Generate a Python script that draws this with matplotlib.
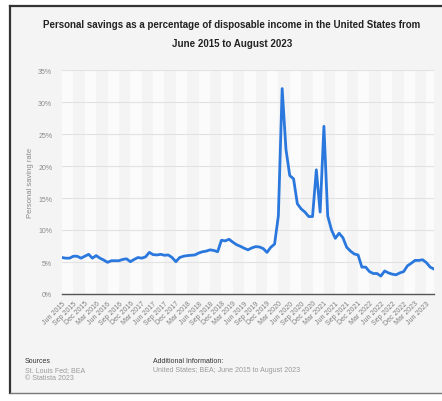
import matplotlib
matplotlib.use("Agg")
import matplotlib.pyplot as plt
import numpy as np
import pandas as pd
from matplotlib.patches import Rectangle

plt.rcParams['font.family'] = ['Liberation Sans', 'DejaVu Sans']

# monthly personal saving rate, Jun 2015 .. Aug 2023 (%)
months = pd.date_range('2015-06-01', '2023-08-01', freq='MS')
saving_rate = [
    5.7, 5.6, 5.6, 5.9, 5.9, 5.6, 5.9, 6.2, 5.6, 6.0, 5.6, 5.3,
    4.95, 5.2, 5.2, 5.2, 5.4, 5.5, 5.05, 5.4, 5.7, 5.6, 5.8, 6.5,
    6.15, 6.1, 6.2, 6.05, 6.1, 5.7, 5.05, 5.7, 5.9, 6.0, 6.05, 6.1,
    6.4, 6.6, 6.7, 6.9, 6.8, 6.6, 8.4, 8.3, 8.55, 8.1, 7.7, 7.45,
    7.15, 6.9, 7.2, 7.4, 7.35, 7.1, 6.5, 7.3, 7.8, 12.2, 32.1, 22.6,
    18.5, 18.0, 14.1, 13.3, 12.8, 12.1, 12.1, 19.4, 12.8, 26.2, 12.2, 10.0,
    8.7, 9.5, 8.8, 7.3, 6.7, 6.25, 6.1, 4.2, 4.2, 3.5, 3.2, 3.2,
    2.8, 3.6, 3.3, 3.1, 3.0, 3.3, 3.5, 4.4, 4.8, 5.25, 5.25, 5.35,
    4.9, 4.2, 3.9,
]
y_ticks = [0, 5, 10, 15, 20, 25, 30, 35]
tick_idx = list(range(0, len(months), 3))
tick_labels = [months[i].strftime('%b %Y') for i in tick_idx]

W, H = 442, 402
fig = plt.figure(figsize=(W / 100, H / 100), dpi=100, facecolor='white')

# card background with dark frame on top/left
fig.patches.append(Rectangle((10 / W, 8 / H), (W - 10) / W, (H - 7 - 8) / H,
                             transform=fig.transFigure, facecolor='#f4f4f4',
                             edgecolor='none', zorder=-5))
fig.add_artist(plt.Line2D([10 / W, 1], [1 - 7 / H, 1 - 7 / H], color='#333333', lw=1.6))
fig.add_artist(plt.Line2D([10 / W, 10 / W], [8 / H, 1 - 7 / H], color='#333333', lw=1.6))
fig.add_artist(plt.Line2D([10 / W, 1], [8 / H, 8 / H], color='#777777', lw=1.0))

ax = fig.add_axes([62 / W, 107 / H, 372 / W, 224 / H])
ax.set_zorder(2)
ax.set_facecolor('#fbfbfb')
x = np.arange(len(months))

# alternating vertical bands per tick interval
for k, i in enumerate(tick_idx):
    if k % 2 == 1:
        ax.axvspan(i, i + 3, color='#f4f4f4', lw=0, zorder=0)

for v in y_ticks[1:]:
    ax.axhline(v, color='#e2e2e2', lw=0.8, zorder=1)

ax.plot(x, saving_rate, color='#2a78de', lw=2.0, solid_joinstyle='round', zorder=3)

ax.set_xlim(0, len(months) - 1)
ax.set_ylim(0, 35)
ax.set_yticks(y_ticks)
ax.set_yticklabels([f'{v}%' for v in y_ticks], fontsize=5, color='#8a8a8a')
ax.set_xticks(tick_idx)
ax.set_xticklabels(tick_labels, rotation=45, ha='right', va='top',
                   rotation_mode='anchor', fontsize=5, color='#808080')
ax.tick_params(axis='x', length=0, pad=4)
ax.tick_params(axis='y', length=0, pad=7)
for s in ['top', 'right', 'left']:
    ax.spines[s].set_visible(False)
ax.spines['bottom'].set_color('#555555')
ax.spines['bottom'].set_linewidth(1.0)
ax.spines['bottom'].set_zorder(4)
ax.set_ylabel('Personal saving rate', fontsize=5.5, color='#8a8a8a', labelpad=3)

fig.text(232 / W, 1 - 25 / H,
         'Personal savings as a percentage of disposable income in the United States from',
         ha='center', va='center', fontsize=7.0, fontweight='bold', color='#222222')
fig.text(232 / W, 1 - 44 / H, 'June 2015 to August 2023',
         ha='center', va='center', fontsize=7.0, fontweight='bold', color='#222222')

fig.text(25 / W, 1 - 362 / H, 'Sources', fontsize=5, color='#333333', va='center')
fig.text(25 / W, 1 - 370.5 / H, 'St. Louis Fed; BEA', fontsize=5, color='#9a9a9a', va='center')
fig.text(25 / W, 1 - 378.5 / H, '\u00a9 Statista 2023', fontsize=5, color='#9a9a9a', va='center')
fig.text(153 / W, 1 - 362 / H, 'Additional Information:', fontsize=5, color='#333333', va='center')
fig.text(153 / W, 1 - 370.5 / H, 'United States; BEA; June 2015 to August 2023', fontsize=5,
         color='#9a9a9a', va='center')

fig.savefig('out.png', dpi=100, facecolor=fig.get_facecolor())
